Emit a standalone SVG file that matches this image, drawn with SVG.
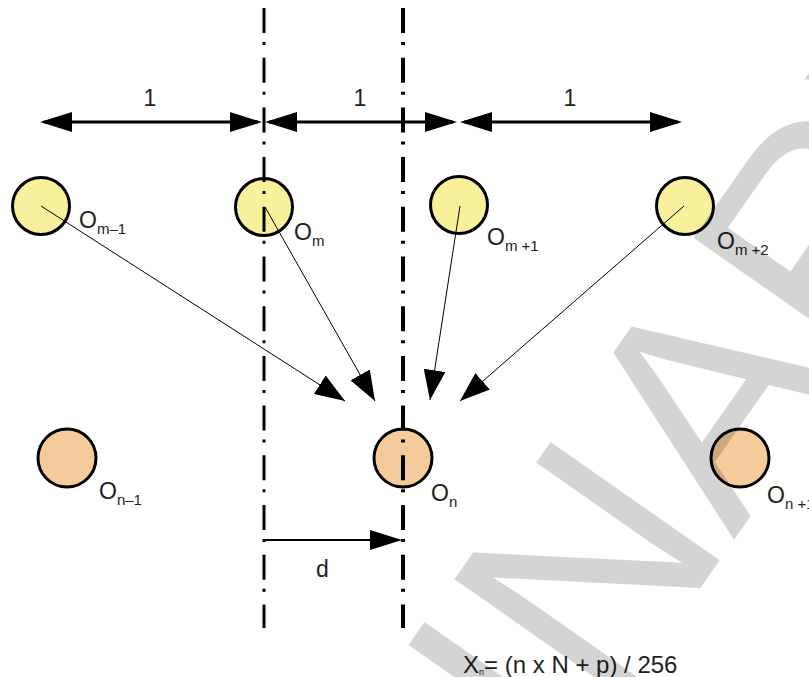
<svg xmlns="http://www.w3.org/2000/svg" width="809" height="677" viewBox="0 0 809 677">
<style>
  text { font-family: "Liberation Sans", Arial, sans-serif; fill: #222; }
  .lbl { font-size: 23px; }
  .sub { font-size: 15px; }
  .num { font-size: 23px; text-anchor: middle; }
  .yel { fill: #f9f09c; stroke: #000; stroke-width: 3; }
  .org { fill: #f6cb9b; stroke: #000; stroke-width: 3; }
  .guide { stroke: #000; fill: none; stroke-dasharray: 25 9 3 12.7; }
  .dim { stroke: #000; stroke-width: 3; fill: none; marker-start: url(#ah); marker-end: url(#ah); }
  .conn { stroke: #000; stroke-width: 1; fill: none; marker-end: url(#ah2); }
  .wm { font-family: "Liberation Sans", Arial, sans-serif; font-size: 300px; fill: #000; fill-opacity: 0.17; }
</style>
<defs>
  <marker id="ah" viewBox="0 0 32 20" refX="28" refY="10" markerWidth="32" markerHeight="20" markerUnits="userSpaceOnUse" orient="auto-start-reverse">
    <path d="M0,0 L32,10 L0,20 z" fill="#000"/>
  </marker>
  <marker id="ah2" viewBox="0 0 30 22" refX="30" refY="11" markerWidth="30" markerHeight="22" markerUnits="userSpaceOnUse" orient="auto">
    <path d="M0,0 L30,11 L0,22 z" fill="#000"/>
  </marker>
</defs>
<rect width="809" height="677" fill="#fff"/>

<g id="node-om-1">
  <circle class="yel" cx="41" cy="206" r="28.5"/>
  <text class="lbl" x="79" y="228">O<tspan class="sub" dy="6">m–1</tspan></text>
</g>
<g id="node-om">
  <circle class="yel" cx="264" cy="207" r="28.5"/>
  <text class="lbl" x="294" y="240">O<tspan class="sub" dy="6">m</tspan></text>
</g>
<g id="node-om+1">
  <circle class="yel" cx="459" cy="205" r="28.5"/>
  <text class="lbl" x="487" y="245">O<tspan class="sub" dy="6">m +1</tspan></text>
</g>
<g id="node-om+2">
  <circle class="yel" cx="685" cy="206" r="28.5"/>
  <text class="lbl" x="717" y="249">O<tspan class="sub" dy="6">m +2</tspan></text>
</g>
<g id="node-on-1">
  <circle class="org" cx="67" cy="458" r="29"/>
  <text class="lbl" x="99" y="499">O<tspan class="sub" dy="6">n–1</tspan></text>
</g>
<g id="node-on">
  <circle class="org" cx="403" cy="458" r="29"/>
  <text class="lbl" x="431" y="501">O<tspan class="sub" dy="6">n</tspan></text>
</g>
<g id="node-on+1">
  <circle class="org" cx="740" cy="458" r="29"/>
  <text class="lbl" x="767" y="503">O<tspan class="sub" dy="6">n +1</tspan></text>
</g>

<g id="guides">
  <line class="guide" x1="264" y1="8" x2="264" y2="628" stroke-width="3"/>
  <line class="guide" x1="403" y1="8" x2="403" y2="628" stroke-width="4"/>
</g>

<g id="dimensions">
  <line class="dim" x1="44" y1="122" x2="258" y2="122"/>
  <line class="dim" x1="269" y1="122" x2="453" y2="122"/>
  <line class="dim" x1="464" y1="122" x2="678" y2="122"/>
  <text class="num" x="150" y="106">1</text>
  <text class="num" x="360" y="106">1</text>
  <text class="num" x="570" y="106">1</text>
  <line x1="263" y1="540" x2="398" y2="540" stroke="#000" stroke-width="2" marker-end="url(#ah)"/>
  <text class="lbl" x="316" y="577">d</text>
</g>

<g id="connectors">
  <line class="conn" x1="41" y1="206" x2="345" y2="401"/>
  <line class="conn" x1="265" y1="207" x2="375" y2="401"/>
  <line class="conn" x1="460" y1="206" x2="430" y2="400" stroke-width="2"/>
  <line class="conn" x1="684" y1="206" x2="460" y2="401"/>
</g>

<text x="463" y="673" font-size="24">X<tspan font-size="9" dy="2">n</tspan><tspan dy="-2">= (n x N + p) / 256</tspan></text>

<text class="wm" x="-79" y="1701" transform="rotate(-55 -79 1701)">PRELIMINARY</text>
</svg>
